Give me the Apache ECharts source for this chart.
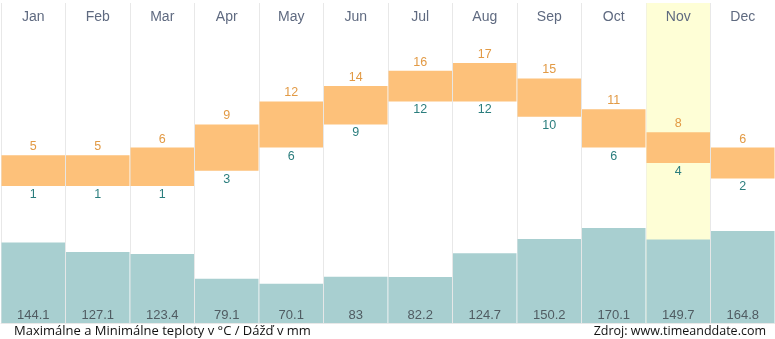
<!DOCTYPE html>
<html><head><meta charset="utf-8">
<script src="https://cdn.jsdelivr.net/npm/echarts@6/dist/echarts.min.js"></script>
<style>html,body{margin:0;padding:0;background:#fff}#c{width:775px;height:339px}</style>
</head><body><div id="c"></div>
<script>
const months = ['Jan','Feb','Mar','Apr','May','Jun','Jul','Aug','Sep','Oct','Nov','Dec'];
const tMax = [5,5,6,9,12,14,16,17,15,11,8,6];
const tMin = [1,1,1,3,6,9,12,12,10,6,4,2];
const rain = [144.1,127.1,123.4,79.1,70.1,83,82.2,124.7,150.2,170.1,149.7,164.8];
const highlightMonth = 'Nov';
const footerLeft = 'Maximálne a Minimálne teploty v °C / Dážď v mm';
const footerRight = 'Zdroj: www.timeanddate.com';

const chart = echarts.init(document.getElementById('c'), null, {renderer:'canvas'});
const gridPos = {left:1, right:0, top:3, bottom:16};
const xBase = {type:'category', data:months, boundaryGap:true, axisTick:{show:false}};
const ff = '"Liberation Sans", Arial, sans-serif';
chart.setOption({
  animation:false,
  title:[
    {text:footerLeft, left:9, top:320, textStyle:{fontFamily:'"Open Sans", sans-serif', fontSize:13, fontWeight:'normal', color:'#111'}},
    {text:footerRight, right:4, top:320, textStyle:{fontFamily:'"Open Sans", sans-serif', fontSize:12.5, fontWeight:'normal', color:'#111'}}
  ],
  grid:[Object.assign({},gridPos), Object.assign({},gridPos), Object.assign({},gridPos)],
  xAxis:[
    Object.assign({}, xBase, {gridIndex:0, position:'top',
      axisLine:{show:true, lineStyle:{color:'#e8e8e8', width:1}},
      axisLabel:{show:false},
      splitLine:{show:true, interval:0, lineStyle:{color:'#e8e8e8', width:1}}}),
    Object.assign({}, xBase, {gridIndex:1, show:false}),
    Object.assign({}, xBase, {gridIndex:2, position:'top', z:10,
      axisLine:{show:false},
      axisLabel:{inside:true, margin:7, color:'#5f6a80', fontSize:14, fontFamily:ff},
      splitLine:{show:false}})
  ],
  yAxis:[
    {gridIndex:0, type:'value', min:0, max:1, show:false},
    {gridIndex:1, type:'value', min:-16.8, max:24.8, show:false},
    {gridIndex:2, type:'value', min:0, max:573, show:false}
  ],
  series:[
    {type:'bar', xAxisIndex:0, yAxisIndex:0, z:1, barCategoryGap:'1.5%',
      itemStyle:{color:'#fefed6'},
      data: months.map(m => m===highlightMonth ? 1 : null)},
    {type:'bar', xAxisIndex:2, yAxisIndex:2, z:2, barCategoryGap:'1.5%',
      itemStyle:{color:'#a8cfd0'},
      label:{show:true, position:'insideBottom', distance:1, color:'#505c62', fontSize:13, fontFamily:ff},
      data: rain},
    {type:'bar', xAxisIndex:1, yAxisIndex:1, z:3, stack:'t', barCategoryGap:'1.5%',
      itemStyle:{color:'rgba(0,0,0,0)'},
      label:{show:true, position:'insideTop', distance:2, color:'#2a7d7d', fontSize:12.5, fontFamily:ff},
      data: tMin},
    {type:'bar', xAxisIndex:1, yAxisIndex:1, z:3, stack:'t', barCategoryGap:'1.5%',
      itemStyle:{color:'#fdc17a'},
      label:{show:true, position:'top', distance:2, color:'#e29a45', fontSize:12.5, fontFamily:ff,
        formatter: p => tMax[p.dataIndex]},
      data: tMax.map((v,i) => v - tMin[i])}
  ]
});
</script></body></html>
